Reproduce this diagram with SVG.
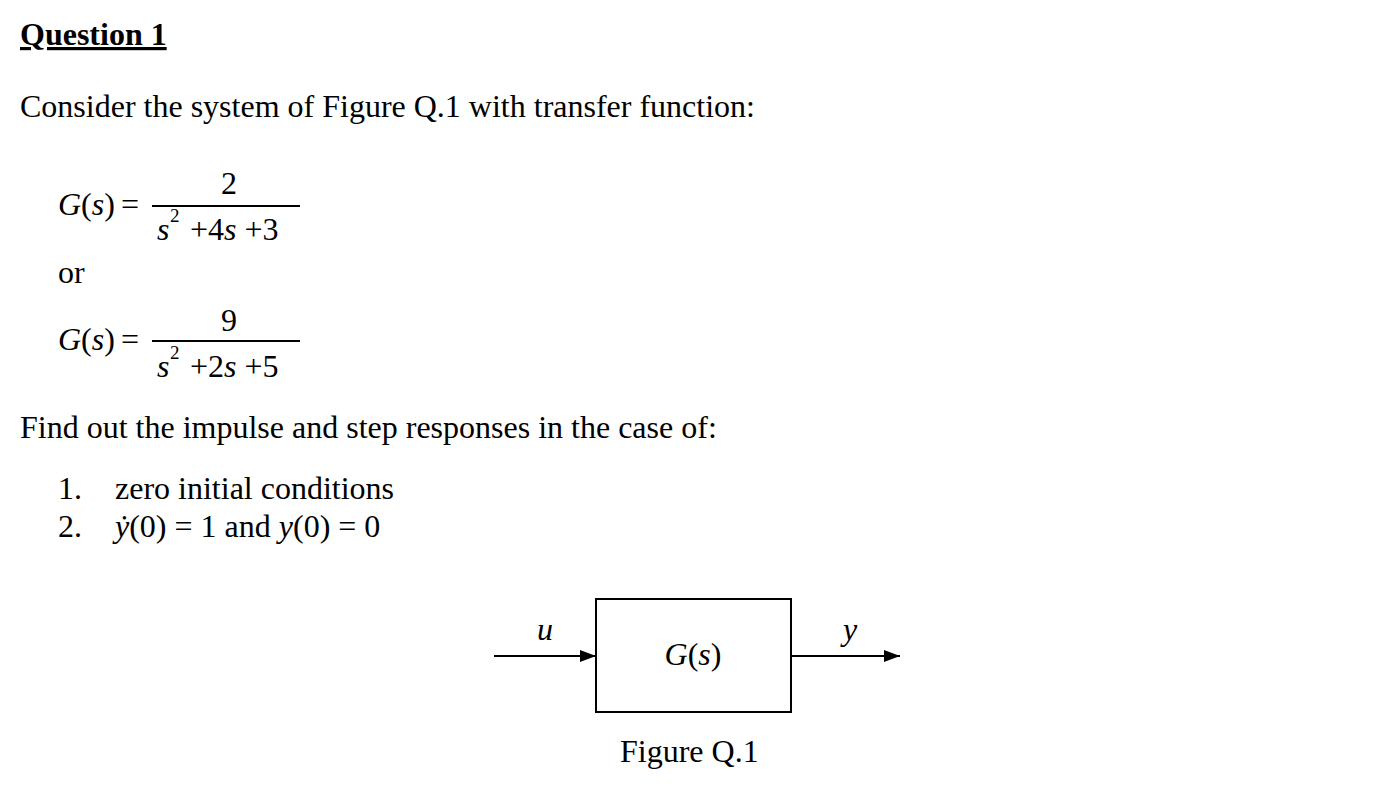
<svg xmlns="http://www.w3.org/2000/svg" width="1386" height="790" viewBox="0 0 1386 790">
<style>
text{font-family:"Liberation Serif","Times New Roman",serif;font-size:32px;fill:#000}
.i{font-style:italic}
.sup{font-size:19px}
.c{stroke:#000;stroke-width:2;fill:none}
</style>
<defs><marker id="a" markerWidth="16" markerHeight="12" refX="16" refY="6" orient="auto" markerUnits="userSpaceOnUse"><path d="M0,0L16,6L0,12z" fill="#000"/></marker></defs>
<rect x="0" y="0" width="1386" height="790" fill="#fff"/>
<text x="20" y="45" font-weight="bold" text-decoration="underline">Question 1</text>
<text x="20" y="117">Consider the system of Figure Q.1 with transfer function:</text>
<text x="58" y="215"><tspan class="i">G</tspan>(<tspan class="i">s</tspan>)</text>
<text x="121" y="215">=</text>
<line class="c" x1="152" y1="206" x2="300" y2="206" stroke-width="1.5"/>
<text x="221" y="194">2</text>
<text x="157" y="240" class="i">s</text><text x="170" y="222" class="sup">2</text>
<text x="190" y="240">+4<tspan class="i">s</tspan> +3</text>
<text x="58" y="283">or</text>
<text x="58" y="350"><tspan class="i">G</tspan>(<tspan class="i">s</tspan>)</text>
<text x="121" y="350">=</text>
<line class="c" x1="152" y1="341" x2="300" y2="341" stroke-width="1.5"/>
<text x="221" y="331">9</text>
<text x="157" y="377" class="i">s</text><text x="170" y="359" class="sup">2</text>
<text x="190" y="377">+2<tspan class="i">s</tspan> +5</text>
<text x="20" y="438">Find out the impulse and step responses in the case of:</text>
<text x="58" y="499">1.</text><text x="115" y="499">zero initial conditions</text>
<text x="58" y="537">2.</text><text x="115" y="537"><tspan class="i">ẏ</tspan>(0) = 1 and <tspan class="i">y</tspan>(0) = 0</text>
<g id="connectors">
<line class="c" x1="494" y1="656" x2="596" y2="656" marker-end="url(#a)"/>
<line class="c" x1="791" y1="656" x2="900" y2="656" marker-end="url(#a)"/>
</g>
<g id="block"><rect class="c" x="596" y="599" width="195" height="113"/>
<text x="693" y="665" text-anchor="middle"><tspan class="i">G</tspan>(<tspan class="i">s</tspan>)</text></g>
<text x="537" y="640" class="i">u</text>
<text x="843" y="640" class="i">y</text>
<text x="620" y="762">Figure Q.1</text>
</svg>
